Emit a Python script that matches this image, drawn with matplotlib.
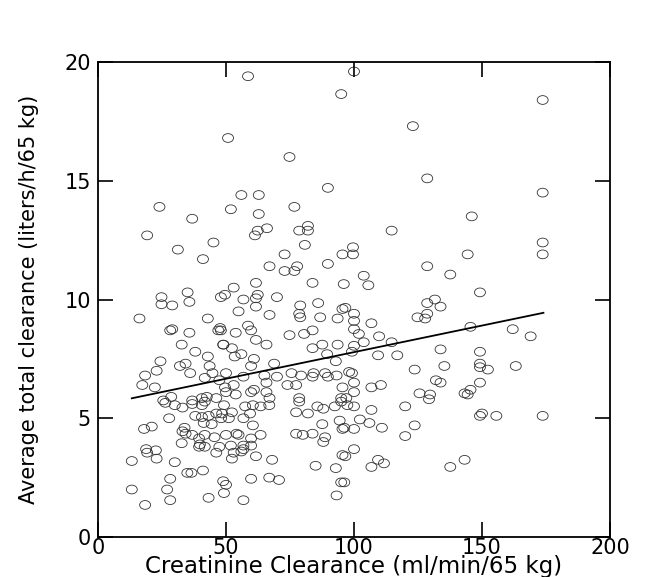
import matplotlib
matplotlib.use("Agg")
import matplotlib.pyplot as plt
from matplotlib.path import Path
from matplotlib.transforms import Affine2D

plt.rcParams['font.family'] = ['DejaVu Sans']

# creatinine clearance (ml/min/65 kg)
crcl = [
    58.6, 100, 95, 173.7, 123, 50.8, 74.8, 128.6, 89.8, 173.7, 56, 62.8, 24, 36.8, 51.9,
    76.7, 146, 62.8, 66, 62.4, 78.6, 82, 82, 114.7, 19.2,
    31.2, 45.1, 41, 35, 24.8, 24.8, 29, 35.7, 16.2, 42.9, 29, 28.2, 35.7, 47, 32.7,
    38, 42.9, 24.4, 22.9, 32, 34.2, 36, 43.6, 44.7, 41.7, 18.4, 17.3, 22.2, 49, 47.7,
    48, 28.6, 25.5, 40.6, 42.5, 46.2, 36.8,
    61.3, 80.8, 72.9, 95.5, 67, 72.9, 76.7, 77.8, 89.8, 61.7, 83.8, 96, 53, 49.6,
    56.8, 62.4, 61.7, 69.9, 61.7, 79, 86, 95.5, 54.9, 67, 78.6, 79, 86.8, 93.6,
    48, 53.8, 58.6, 59.8, 74.8, 80.5, 83.8, 61.7, 65.8, 48.9, 52.3, 53.4, 56, 83.8,
    87.6, 93.6, 89.5, 60.9, 59.8, 68.8, 92.9, 49.6, 50, 53, 53.8, 56.8, 60.9, 59.8,
    65, 65.8, 65.8, 69.9, 74, 77.4, 75.6, 79.3, 83.8, 84.2, 88.7, 89.8, 93.2, 95.5,
    78.6, 95, 67, 50, 47.4,
    99.6, 99.6, 144.4, 128.6, 137.6, 103.8, 105.6, 128.6, 131.6, 133.8, 124.8, 127.8,
    128.6, 96.6, 100, 100, 100, 101.9, 103.8, 106.8, 109.8, 114.7, 100, 99.2, 109.4,
    116.9, 133.8, 135.3, 123.7, 98.1, 99.2, 100, 132, 133.8, 106.8, 110.5, 100, 125.6,
    129.7, 97, 143.2,
    173.7, 173.7, 149.2, 145.5, 162, 169, 149.2, 149.2, 149.2, 152.3, 163.2, 149.2,
    145.5, 144.4,
    26.3, 30, 33, 36.8, 40.6, 41.7, 27.8, 18, 21, 38, 40.6, 43.2, 46.2, 41.3, 44.4,
    33, 34.2, 36.8, 33.8, 39.5, 39.8, 41.7, 39.5, 32.7, 41.7, 45.5, 46.2, 18.8, 19.2,
    22.6, 22.9, 13.2, 30, 34.9, 36.5, 41, 28.2, 13.2, 27, 28.2, 18.4, 48.9, 43.2,
    49.2, 52.3, 48.5, 48.1, 51.1, 57.5, 60.5, 63.5, 66.9, 59.4, 56.8, 60.5, 50, 54.1,
    54.9, 59.8, 63.5, 51.9, 56.8, 59.8, 53, 56, 56.8, 52.3, 61.7, 68, 47.4, 59.8,
    66.9, 70.7, 50, 49.2, 56.8, 78.6, 77.4, 82, 85.7, 88, 92.5, 95, 77.4, 80, 83.8,
    87.6, 88.7, 88, 94.4, 95.5, 85, 92.9, 95.5, 95, 93.2,
    97.4, 100, 96.2, 100, 102.3, 106, 106.8, 110.9, 120, 123.7, 120, 96.6, 100, 106.8,
    109.4, 111.7, 96.2, 137.6, 143.2, 129.3,
    149.2, 150, 155.6, 173.7,
]

# average total clearance (liters/h/65 kg)
total_cl = [
    19.4, 19.6, 18.65, 18.4, 17.3, 16.8, 16.0, 15.1, 14.7, 14.5, 14.4, 14.4, 13.9, 13.4, 13.8,
    13.9, 13.5, 13.6, 13.0, 12.9, 12.9, 13.1, 12.9, 12.9, 12.7,
    12.1, 12.4, 11.7, 10.3, 10.1, 9.8, 9.75, 9.9, 9.2, 9.2, 8.75, 8.7, 8.6, 8.7, 8.1,
    7.8, 7.6, 7.4, 7.0, 7.2, 7.3, 6.9, 7.2, 6.9, 6.7, 6.8, 6.4, 6.3, 8.1, 8.8,
    10.1, 5.9, 5.75, 5.85, 5.9, 5.85, 5.75,
    12.7, 12.3, 11.9, 11.9, 11.4, 11.2, 11.2, 11.4, 11.5, 10.7, 10.7, 10.65, 10.5, 10.2,
    10.0, 10.2, 10.05, 10.1, 9.7, 9.75, 9.85, 9.6, 9.5, 9.35, 9.4, 9.25, 9.25, 9.2,
    8.7, 8.6, 8.9, 8.7, 8.5, 8.55, 8.7, 8.3, 8.1, 8.1, 7.95, 7.6, 7.7, 7.95,
    8.1, 8.1, 7.7, 7.5, 7.2, 7.3, 7.4, 6.3, 6.1, 6.4, 6.0, 6.75, 6.2, 6.1,
    6.8, 6.5, 6.1, 6.75, 6.4, 6.4, 6.9, 6.8, 6.75, 6.9, 6.9, 6.75, 6.8, 6.3,
    5.85, 5.85, 5.85, 6.9, 6.6,
    12.2, 11.9, 11.9, 11.4, 11.05, 11.0, 10.6, 9.85, 10.0, 9.7, 9.25, 9.2,
    9.4, 9.65, 9.4, 9.1, 8.75, 8.55, 8.2, 9.0, 8.45, 8.2, 8.05, 7.8, 7.65,
    7.65, 7.9, 7.2, 7.05, 6.95, 6.9, 6.5, 6.6, 6.5, 6.3, 6.4, 6.1, 6.05,
    6.0, 5.85, 6.05,
    12.4, 11.9, 10.3, 8.85, 8.75, 8.45, 7.8, 7.3, 7.15, 7.05, 7.2, 6.5,
    6.2, 6.0,
    5.65, 5.55, 5.45, 5.6, 5.55, 5.7, 5.0, 4.55, 4.65, 5.1, 5.05, 5.1, 5.2, 4.8, 4.75,
    4.45, 4.35, 4.3, 4.6, 4.15, 3.9, 3.8, 3.8, 3.95, 4.3, 4.2, 3.55, 3.7, 3.55,
    3.65, 3.3, 3.2, 3.15, 2.7, 2.7, 2.8, 2.45, 2.0, 2.0, 1.55, 1.35, 2.35, 1.65,
    5.55, 5.25, 5.2, 5.0, 5.0, 5.5, 5.55, 5.5, 5.55, 5.2, 5.0, 4.7, 4.3, 4.35,
    4.3, 4.15, 4.3, 3.85, 3.85, 3.85, 3.55, 3.6, 3.7, 3.3, 3.4, 3.25, 3.8, 2.45,
    2.5, 2.4, 2.2, 1.85, 1.55, 5.7, 5.25, 5.2, 5.5, 5.4, 5.5, 5.7, 4.35, 4.3, 4.35,
    4.75, 4.2, 4.0, 4.9, 4.55, 3.0, 2.9, 3.45, 2.3, 1.75,
    5.55, 5.5, 4.6, 4.55, 4.95, 4.8, 5.35, 4.6, 5.5, 4.7, 4.25, 3.4, 3.7, 2.95,
    3.25, 3.1, 2.3, 2.95, 3.25, 5.8,
    5.1, 5.2, 5.1, 5.1,
]

# regression line
fit_x = [13.2, 174]
fit_y = [5.84, 9.44]

# slightly flattened open circle
oval = Path.unit_circle().transformed(Affine2D().scale(1.0, 0.8))

fig = plt.figure(figsize=(6.5, 5.77), dpi=100)
ax = fig.add_axes([98 / 650, 1 - 537 / 577, 512 / 650, 475 / 577])

ax.scatter(crcl, total_cl, s=62, marker=oval, facecolors='none',
           edgecolors='#333333', linewidths=0.6)
ax.plot(fit_x, fit_y, color='black', lw=1.3)

ax.set_xlim(0, 200)
ax.set_ylim(0, 20)
ax.set_xticks([0, 50, 100, 150, 200])
ax.set_yticks([0, 5, 10, 15, 20])
ax.tick_params(direction='in', length=11, width=1.2, labelsize=15,
               top=True, right=True)
ax.tick_params(axis='x', pad=0.5)
ax.tick_params(axis='y', pad=5)
for s in ax.spines.values():
    s.set_linewidth(1.3)

ax.set_xlabel('Creatinine Clearance (ml/min/65 kg)', fontsize=16.5)
ax.xaxis.set_label_coords(0.5, -0.038)
ax.set_ylabel('Average total clearance (liters/h/65 kg)', fontsize=15)
ax.yaxis.set_label_coords(-0.115, 0.5)

fig.savefig('out.png', dpi=100)
